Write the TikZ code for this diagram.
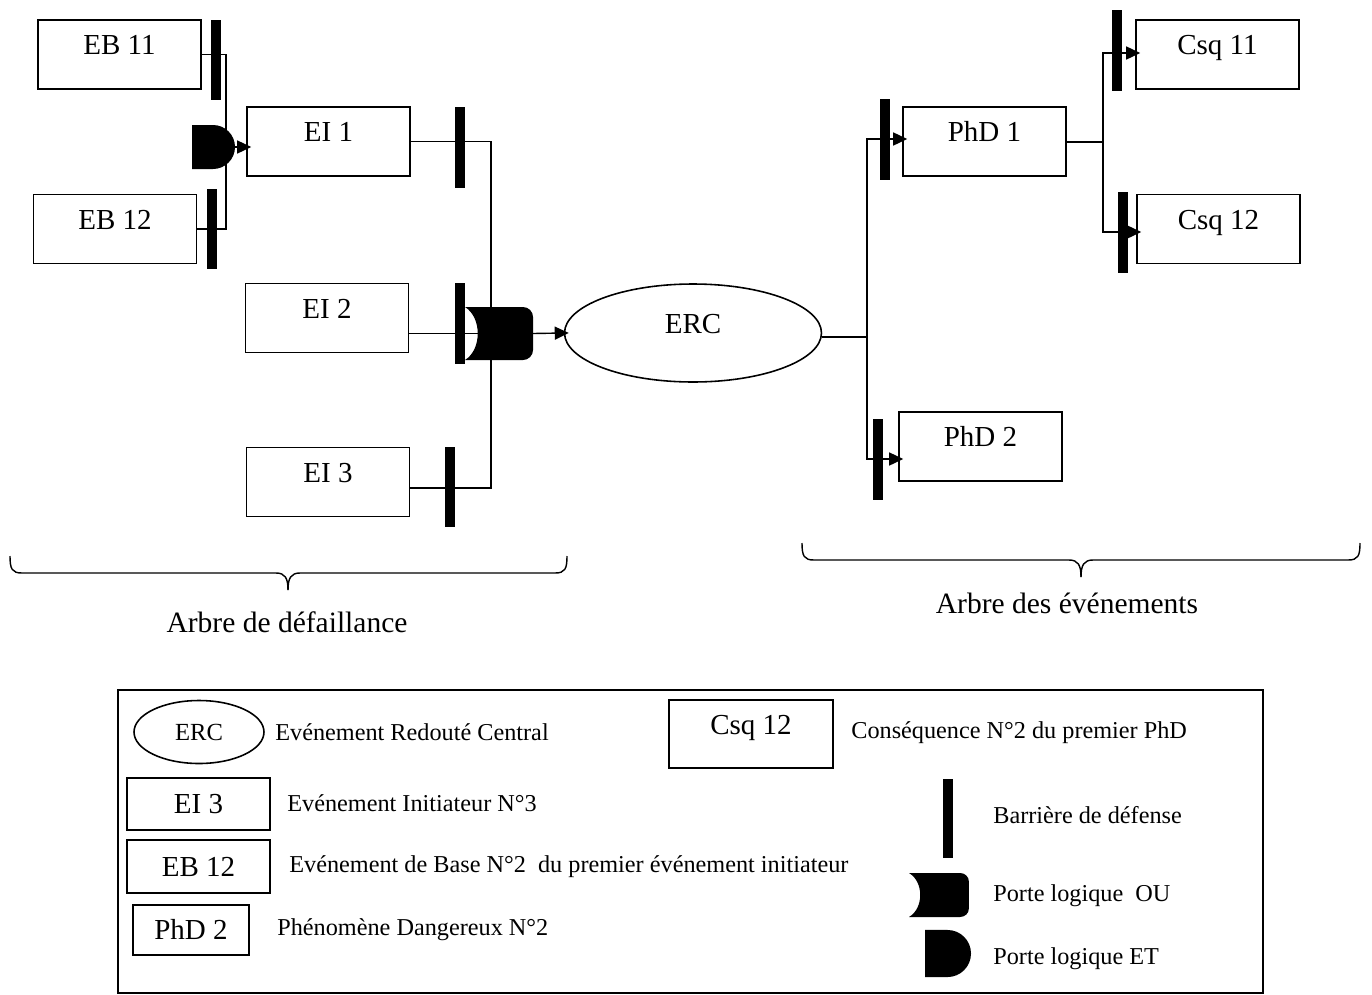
\documentclass[tikz,border=0pt]{standalone}
\usepackage{fontspec}
\setmainfont{Liberation Serif}
\usetikzlibrary{arrows.meta,shapes.geometric}

\begin{document}
\begin{tikzpicture}[x=0.02cm,y=-0.02cm,
  lbl/.style={font=\fontsize{16.5pt}{19pt}\selectfont},
  box/.style={draw,line width=0.9pt,lbl,inner sep=0pt,minimum width=3.26cm,minimum height=1.38cm,
              text height=0.4cm,text depth=0.4cm},
  legbox/.style={draw,line width=0.9pt,lbl,inner sep=0pt,text height=0.38cm,text depth=0pt},
  barrier/.style={fill=black,inner sep=0pt,minimum width=0.2cm,minimum height=1.62cm},
  wire/.style={line width=0.8pt},
  stub/.style={line width=1.5pt},
  arrow/.style={wire,-{Triangle[length=0.28cm,width=0.26cm]},shorten >=-0.1cm},
  desc/.style={anchor=base west,inner sep=0pt,font=\fontsize{13.8pt}{16pt}\selectfont},
  title/.style={anchor=base,inner sep=0pt,font=\fontsize{16.8pt}{19pt}\selectfont},
  brace/.style={line width=0.8pt},
  orgate/.pic={\fill (0,-26.5) -- (58,-26.5) to[out=0,in=90] (68,-16.5) -- (68,16.5)
                 to[out=-90,in=0] (58,26.5) -- (0,26.5)
                 .. controls (17,16) and (17,-16) .. (0,-26.5) -- cycle;},
  andgate/.pic={\fill (0,-22) -- (21,-22) .. controls (33.15,-22) and (43,-12.15) .. (43,0)
                 .. controls (43,12.15) and (33.15,22) .. (21,22) -- (0,22) -- cycle;}
]
\useasboundingbox (0,0) rectangle (1372,994);

% ---------- fault tree (left) ----------
\node[box] (eb11) at (119.5,54.5) {EB 11};
\node[box] (eb12) at (115,229) {EB 12};
\node[box] (ei1) at (328.5,141.5) {EI 1};
\node[box] (ei2) at (327,318) {EI 2};
\node[box] (ei3) at (328,482) {EI 3};

\coordinate (andL) at (192,147);
\coordinate (andJ) at (226,147);
\coordinate (andOut) at (235,147);
\coordinate (orL) at (465,333.5);
\coordinate (orJ) at (491,333.5);
\coordinate (orOut) at (533,333.5);

\draw[wire] (eb11.east) -| (andJ);
\draw[wire] (eb12.east) -| (andJ);
\draw[arrow] (andOut) -- (ei1.west |- andOut);
\draw[wire] (ei1.east) -| (orJ);
\draw[wire] (ei2.east |- orL) -- (orJ);
\draw[wire] ([yshift=-0.12cm]ei3.east) -| (orJ);

\pic at (andL) {andgate};
\pic at (orL) {orgate};

% ---------- central event ----------
\node[draw,ellipse,line width=0.9pt,lbl,inner sep=0pt,minimum width=5.14cm,minimum height=1.96cm,
      text height=0.4cm,text depth=0.4cm] (erc) at (693,333) {ERC};
\draw[arrow] (orOut) -- (erc.west);

% ---------- event tree (right) ----------
\node[box] (phd1) at (984.5,141.5) {PhD 1};
\node[box] (phd2) at (980.5,446.5) {PhD 2};
\node[box] (csq11) at (1217.5,54.5) {Csq 11};
\node[box] (csq12) at (1218.5,229) {Csq 12};

\coordinate (ercJ) at (867,337);
\coordinate (phdJ) at (1103,142);
\draw[stub] (erc.east |- ercJ) -- (ercJ);
\draw[arrow] (ercJ) |- ([yshift=0.05cm]phd1.west);
\draw[arrow] (ercJ) |- ([yshift=-0.25cm]phd2.west);
\draw[stub] (phd1.east |- phdJ) -- (phdJ);
\draw[arrow] (phdJ) |- ([yshift=0.03cm]csq11.west);
\draw[arrow] (phdJ) |- ([yshift=-0.06cm]csq12.west);

% ---------- defence barriers ----------
\node[barrier,minimum height=1.6cm] (b11) at (215.5,60) {};
\node[barrier,minimum height=1.6cm] (b12) at (212,229) {};
\node[barrier] (bi1) at (460,147.5) {};
\node[barrier] (bi2) at (460,323.5) {};
\node[barrier,minimum height=1.6cm] (bi3) at (450,487) {};
\node[barrier] (bp1) at (885,139.5) {};
\node[barrier] (bp2) at (878,459.5) {};
\node[barrier] (bc11) at (1117,50.5) {};
\node[barrier] (bc12) at (1123,232.5) {};

% ---------- braces ----------
\draw[brace] (10,556) .. controls (10,569) and (12,573) .. (22,573) -- (276,573)
  .. controls (285,573) and (288,578) .. (288,590);
\draw[brace] (567,556) .. controls (567,569) and (565,573) .. (555,573) -- (300,573)
  .. controls (291,573) and (288,578) .. (288,590);
\node[title] (tfault) at (287,632) {Arbre de défaillance};

\draw[brace] (802,543) .. controls (802,556) and (804,560) .. (814,560) -- (1069,560)
  .. controls (1078,560) and (1081,565) .. (1081,577);
\draw[brace] (1360,543) .. controls (1360,556) and (1358,560) .. (1348,560) -- (1093,560)
  .. controls (1084,560) and (1081,565) .. (1081,577);
\node[title] (tevent) at (1067,613) {Arbre des événements};

% ---------- legend ----------
\node[draw,line width=0.9pt,inner sep=0pt,minimum width=22.9cm,minimum height=6.06cm] (legend) at (690.5,841.5) {};

\node[draw,ellipse,line width=0.9pt,inner sep=0pt,minimum width=2.6cm,minimum height=1.26cm,
      font=\fontsize{14pt}{16pt}\selectfont,text height=0.33cm,text depth=0pt] (lerc) at (199,732) {ERC};
\node[desc] (derc) at (275,740) {Evénement Redouté Central};

\node[legbox,minimum width=2.86cm,minimum height=1.04cm] (lei) at (198.5,804) {EI 3};
\node[desc] (dei) at (287,811) {Evénement Initiateur N°3};

\node[legbox,minimum width=2.86cm,minimum height=1.06cm] (leb) at (198.5,866.5) {EB 12};
\node[desc] (deb) at (289,872) {Evénement de Base N°2\ \ du premier événement initiateur};

\node[legbox,minimum width=2.32cm,minimum height=1.0cm] (lphd) at (191,930) {PhD 2};
\node[desc] (dphd) at (277,935) {Phénomène Dangereux N°2};

\node[box,minimum width=3.28cm,minimum height=1.36cm] (lcsq) at (751,734) {Csq 12};
\node[desc] (dcsq) at (851,738) {Conséquence N°2 du premier PhD};

\node[barrier,minimum height=1.58cm] (lbar) at (948,818.5) {};
\node[desc] (dbar) at (993,823) {Barrière de défense};

\pic[xscale=0.88,yscale=0.83] at (909,895) {orgate};
\node[desc] (dor) at (993,901) {Porte logique\ \ OU};

\pic[scale=1.07] at (925,953.5) {andgate};
\node[desc] (dand) at (993,964) {Porte logique ET};
\end{tikzpicture}
\end{document}
